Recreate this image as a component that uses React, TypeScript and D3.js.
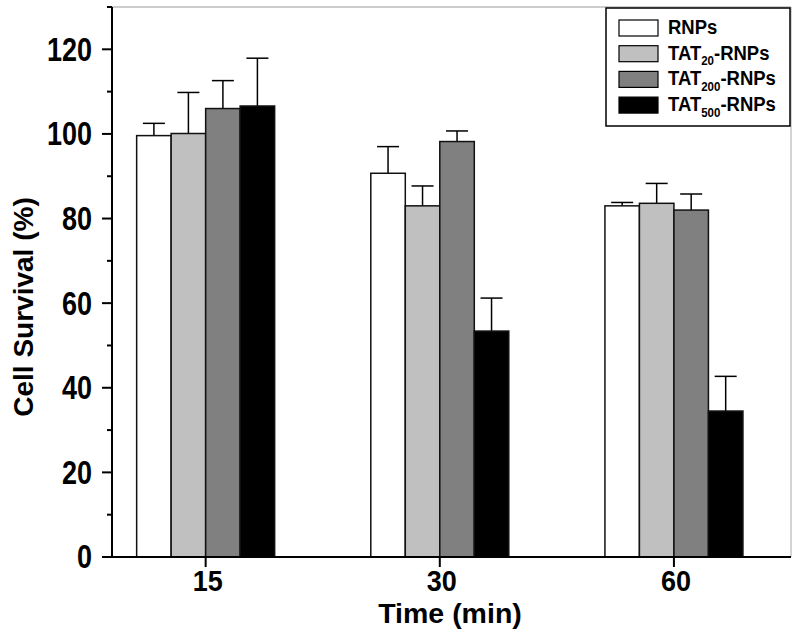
import React from "react";
import * as d3 from "d3";

const categories = ["15", "30", "60"];
const seriesNames = ["RNPs", "TAT20-RNPs", "TAT200-RNPs", "TAT500-RNPs"];
const seriesBase = ["RNPs", "TAT", "TAT", "TAT"];
const seriesSub = ["", "20", "200", "500"];
const seriesTail = ["", "-RNPs", "-RNPs", "-RNPs"];
const seriesColors = ["#ffffff", "#c0c0c0", "#808080", "#000000"];
// values[series][category]
const means = [
  [99.6, 90.7, 83.0],
  [100.1, 83.0, 83.6],
  [106.0, 98.2, 82.0],
  [106.6, 53.4, 34.5],
];
const errors = [
  [2.9, 6.3, 0.8],
  [9.7, 4.7, 4.7],
  [6.6, 2.5, 3.8],
  [11.3, 7.8, 8.2],
];
const yTicks = [0, 20, 40, 60, 80, 100, 120];
const yMinor = [10, 30, 50, 70, 90, 110, 130];

const W = 799;
const H = 634;
const left = 112;
const right = 791;
const top = 7;
const bottom = 557;
const font = "'Liberation Sans', Arial, sans-serif";

export default function App() {
  const y = d3.scaleLinear().domain([0, 130]).range([bottom, top]);
  const x = d3.scaleLinear().domain([-0.4, 2.5]).range([left, right]);
  const barW = 34.5;
  const capW = 22;

  return (
    <svg width={W} height={H} style={{ position: "absolute", left: 0, top: 0 }}>
      <rect x={0} y={0} width={W} height={H} fill="#fff" />
      {/* frame top & right */}
      <line x1={left} x2={right} y1={top} y2={top} stroke="#999" strokeWidth={1} />
      <line x1={right} x2={right} y1={top} y2={bottom} stroke="#aaa" strokeWidth={1} />

      {/* bars */}
      {means.map((row, s) =>
        row.map((v, c) => {
          const cx = x(c);
          const bx = cx - 2 * barW + s * barW;
          const bc = bx + barW / 2;
          const ey = y(v + errors[s][c]);
          return (
            <g key={`${s}-${c}`}>
              <line x1={bc} x2={bc} y1={y(v)} y2={ey} stroke="#000" strokeWidth={1.5} />
              <line x1={bc - capW / 2} x2={bc + capW / 2} y1={ey} y2={ey} stroke="#000" strokeWidth={1.5} />
              <rect
                x={bx}
                y={y(v)}
                width={barW}
                height={y(0) - y(v)}
                fill={seriesColors[s]}
                stroke="#111"
                strokeWidth={1.5}
              />
            </g>
          );
        })
      )}

      {/* y axis */}
      <line x1={left} x2={left} y1={top} y2={bottom} stroke="#000" strokeWidth={2} />
      {yTicks.map((t) => (
        <g key={t}>
          <line x1={left - 10} x2={left} y1={y(t)} y2={y(t)} stroke="#000" strokeWidth={2} />
          <text
            transform={`translate(${left - 20}, ${y(t)}) scale(1, 1.2)`}
            textAnchor="end"
            dominantBaseline="central"
            fontFamily={font}
            fontWeight="bold"
            fontSize={27}
          >
            {t}
          </text>
        </g>
      ))}
      {yMinor.map((t) => (
        <line key={t} x1={left - 5} x2={left} y1={y(t)} y2={y(t)} stroke="#000" strokeWidth={2} />
      ))}
      <text
        transform={`translate(23, ${(top + bottom) / 2 + 25}) rotate(-90)`}
        textAnchor="middle"
        dominantBaseline="central"
        fontFamily={font}
        fontWeight="bold"
        fontSize={28}
      >
        Cell Survival (%)
      </text>

      {/* x axis */}
      <line x1={left - 10} x2={right} y1={bottom} y2={bottom} stroke="#000" strokeWidth={2} />
      {categories.map((c, i) => (
        <g key={c}>
          <line x1={x(i)} x2={x(i)} y1={bottom} y2={bottom + 10} stroke="#000" strokeWidth={2} />
          <text
            transform={`translate(${x(i) + 2}, ${bottom + 34}) scale(1, 1.1)`}
            textAnchor="middle"
            fontFamily={font}
            fontWeight="bold"
            fontSize={27}
          >
            {c}
          </text>
        </g>
      ))}
      <text
        x={450}
        y={623}
        textAnchor="middle"
        fontFamily={font}
        fontWeight="bold"
        fontSize={28.5}
      >
        Time (min)
      </text>

      {/* legend */}
      <rect x={606} y={8} width={184} height={118} fill="#fff" stroke="#000" strokeWidth={1.5} />
      {seriesNames.map((n, i) => {
        const ry = 20 + i * 25.7;
        return (
          <g key={n}>
            <rect x={619} y={ry} width={39} height={16} fill={seriesColors[i]} stroke="#000" strokeWidth={1.2} />
            <text
              transform={`translate(668, ${ry + 14}) scale(1, 1.08)`}
              fontFamily={font}
              fontWeight="bold"
              fontSize={18.5}
            >
              <tspan>{seriesBase[i]}</tspan>
              {seriesSub[i] && (
                <tspan fontSize={11.5} dy={5}>
                  {seriesSub[i]}
                </tspan>
              )}
              {seriesTail[i] && <tspan dy={-5}>{seriesTail[i]}</tspan>}
            </text>
          </g>
        );
      })}
    </svg>
  );
}
